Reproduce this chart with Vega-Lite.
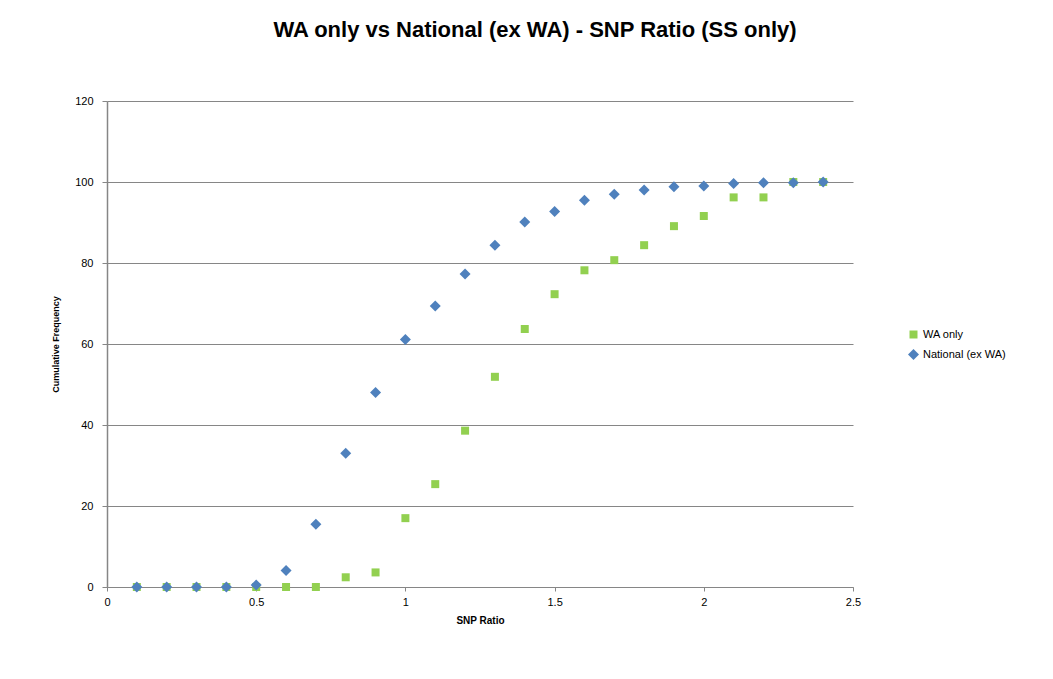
{
  "$schema": "https://vega.github.io/schema/vega-lite/v6.json",
  "autosize": "none",
  "width": 746,
  "height": 486,
  "padding": {"left": 107, "top": 101, "right": 200, "bottom": 92},
  "background": "white",
  "title": {
    "text": "WA only vs National (ex WA) - SNP Ratio (SS only)",
    "font": "Liberation Sans",
    "fontSize": 22,
    "fontWeight": "bold",
    "color": "#000000",
    "anchor": "middle",
    "dx": 55,
    "offset": 53
  },
  "config": {
    "view": {"stroke": null},
    "font": "Liberation Sans"
  },
  "data": {
    "values": [
      {"ratio": 0.1, "series": "WA only", "freq": 0},
      {"ratio": 0.2, "series": "WA only", "freq": 0},
      {"ratio": 0.3, "series": "WA only", "freq": 0},
      {"ratio": 0.4, "series": "WA only", "freq": 0},
      {"ratio": 0.5, "series": "WA only", "freq": 0},
      {"ratio": 0.6, "series": "WA only", "freq": 0},
      {"ratio": 0.7, "series": "WA only", "freq": 0},
      {"ratio": 0.8, "series": "WA only", "freq": 2.4},
      {"ratio": 0.9, "series": "WA only", "freq": 3.6},
      {"ratio": 1.0, "series": "WA only", "freq": 17},
      {"ratio": 1.1, "series": "WA only", "freq": 25.4},
      {"ratio": 1.2, "series": "WA only", "freq": 38.6},
      {"ratio": 1.3, "series": "WA only", "freq": 51.9},
      {"ratio": 1.4, "series": "WA only", "freq": 63.7},
      {"ratio": 1.5, "series": "WA only", "freq": 72.3},
      {"ratio": 1.6, "series": "WA only", "freq": 78.2},
      {"ratio": 1.7, "series": "WA only", "freq": 80.7},
      {"ratio": 1.8, "series": "WA only", "freq": 84.4},
      {"ratio": 1.9, "series": "WA only", "freq": 89.1},
      {"ratio": 2.0, "series": "WA only", "freq": 91.6},
      {"ratio": 2.1, "series": "WA only", "freq": 96.2},
      {"ratio": 2.2, "series": "WA only", "freq": 96.2},
      {"ratio": 2.3, "series": "WA only", "freq": 100},
      {"ratio": 2.4, "series": "WA only", "freq": 100},
      {"ratio": 0.1, "series": "National (ex WA)", "freq": 0},
      {"ratio": 0.2, "series": "National (ex WA)", "freq": 0},
      {"ratio": 0.3, "series": "National (ex WA)", "freq": 0},
      {"ratio": 0.4, "series": "National (ex WA)", "freq": 0},
      {"ratio": 0.5, "series": "National (ex WA)", "freq": 0.5},
      {"ratio": 0.6, "series": "National (ex WA)", "freq": 4.1},
      {"ratio": 0.7, "series": "National (ex WA)", "freq": 15.5},
      {"ratio": 0.8, "series": "National (ex WA)", "freq": 33},
      {"ratio": 0.9, "series": "National (ex WA)", "freq": 48},
      {"ratio": 1.0, "series": "National (ex WA)", "freq": 61.1},
      {"ratio": 1.1, "series": "National (ex WA)", "freq": 69.4},
      {"ratio": 1.2, "series": "National (ex WA)", "freq": 77.3},
      {"ratio": 1.3, "series": "National (ex WA)", "freq": 84.4},
      {"ratio": 1.4, "series": "National (ex WA)", "freq": 90.1},
      {"ratio": 1.5, "series": "National (ex WA)", "freq": 92.7},
      {"ratio": 1.6, "series": "National (ex WA)", "freq": 95.5},
      {"ratio": 1.7, "series": "National (ex WA)", "freq": 97},
      {"ratio": 1.8, "series": "National (ex WA)", "freq": 98},
      {"ratio": 1.9, "series": "National (ex WA)", "freq": 98.8},
      {"ratio": 2.0, "series": "National (ex WA)", "freq": 99},
      {"ratio": 2.1, "series": "National (ex WA)", "freq": 99.6},
      {"ratio": 2.2, "series": "National (ex WA)", "freq": 99.8},
      {"ratio": 2.3, "series": "National (ex WA)", "freq": 99.8},
      {"ratio": 2.4, "series": "National (ex WA)", "freq": 100}
    ]
  },
  "mark": {"type": "point", "filled": true, "opacity": 1},
  "encoding": {
    "x": {
      "field": "ratio",
      "type": "quantitative",
      "scale": {"domain": [0, 2.5], "nice": false, "zero": true},
      "axis": {
        "title": "SNP Ratio",
        "titleFont": "Liberation Sans",
        "titleFontSize": 10,
        "titleFontWeight": "bold",
        "titleColor": "#000000",
        "titlePadding": 8,
        "values": [0, 0.5, 1, 1.5, 2, 2.5],
        "format": "~g",
        "labelFontSize": 11,
        "labelColor": "#000000",
        "labelPadding": 5,
        "labelFlush": false,
        "labelOverlap": false,
        "grid": false,
        "domainColor": "#868686",
        "tickColor": "#868686",
        "tickSize": 4
      }
    },
    "y": {
      "field": "freq",
      "type": "quantitative",
      "scale": {"domain": [0, 120], "nice": false},
      "axis": {
        "title": "Cumulative Frequency",
        "titleFont": "Liberation Sans",
        "titleFontSize": 9,
        "titleFontWeight": "bold",
        "titleColor": "#000000",
        "titlePadding": 14,
        "values": [0, 20, 40, 60, 80, 100, 120],
        "labelFontSize": 11,
        "labelColor": "#000000",
        "labelPadding": 9,
        "labelFlush": false,
        "grid": true,
        "gridColor": "#868686",
        "gridWidth": 1,
        "domainColor": "#868686",
        "domainWidth": 1.5,
        "tickColor": "#868686",
        "tickSize": 5
      }
    },
    "color": {
      "field": "series",
      "type": "nominal",
      "scale": {"domain": ["WA only", "National (ex WA)"], "range": ["#92D050", "#4F81BD"]},
      "legend": {
        "title": null,
        "orient": "none",
        "legendX": 800,
        "legendY": 228,
        "labelFont": "Liberation Sans",
        "labelFontSize": 11,
        "labelColor": "#000000",
        "labelOffset": 3,
        "rowPadding": 8,
        "symbolSize": 50
      }
    },
    "shape": {
      "field": "series",
      "type": "nominal",
      "scale": {"domain": ["WA only", "National (ex WA)"], "range": ["square", "diamond"]}
    },
    "size": {
      "field": "series",
      "type": "nominal",
      "scale": {"domain": ["WA only", "National (ex WA)"], "range": [64, 121]}
    }
  }
}
